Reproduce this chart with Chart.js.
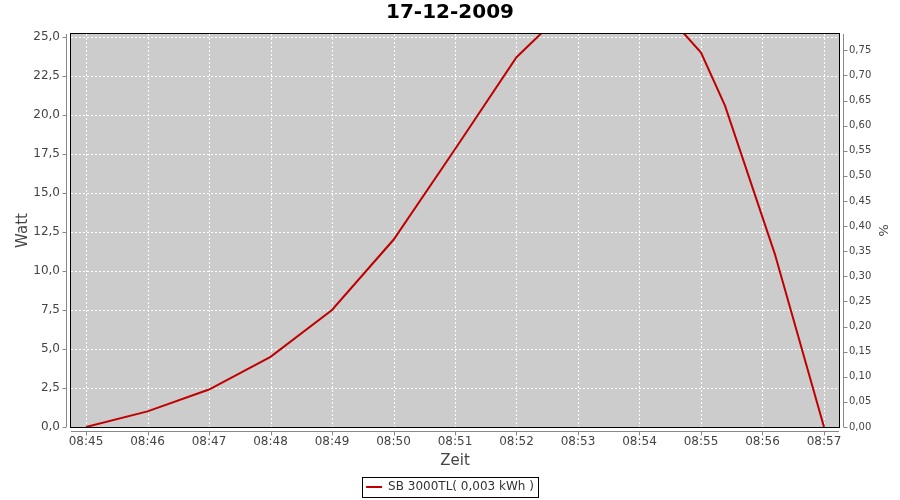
<!DOCTYPE html>
<html>
<head>
<meta charset="utf-8">
<script src="https://cdn.jsdelivr.net/npm/chart.js@4"></script>
<style>
  html, body { margin: 0; padding: 0; background: #fff; }
</style>
</head>
<body>
<canvas id="chart" width="900" height="500"></canvas>
<script>
const chartTitle = "17-12-2009";
const seriesName = "SB 3000TL( 0,003 kWh )";
// time in minutes after 08:00
const timeMinutes = [45, 46, 47, 48, 49, 50, 51, 52, 53, 54, 55, 55.39, 56.2, 57];
const wattValues = [0, 1.0, 2.4, 4.5, 7.5, 12.0, 17.8, 23.7, 27.5, 28.4, 24.0, 20.6, 11.1, 0];
const xRange = [44.756, 57.244];
const wattRange = [0, 25.19];
const percentRange = [0, 0.7825];

const font = "DejaVu Sans";
const textGray = "#444444";

function fmtTime(v) {
    const h = 8 + Math.floor(v / 60);
    const m = Math.round(v % 60);
    return String(h).padStart(2, "0") + ":" + String(m).padStart(2, "0");
}

// grey plot background, dashed white grid, black frame, offset axis lines
const plotFrame = {
    id: "plotFrame",
    afterLayout(chart) {
        // push the legend down a little (set absolutely, layout can run twice)
        const l = chart.legend;
        const h = l.height;
        l.top = 475;
        l.bottom = l.top + h;
    },
    beforeDatasetsDraw(chart) {
        const {ctx, chartArea: a, scales} = chart;
        ctx.save();
        ctx.fillStyle = "#cccccc";
        ctx.fillRect(a.left, a.top, a.right - a.left, a.bottom - a.top);
        ctx.strokeStyle = "#ffffff";
        ctx.lineWidth = 1;
        ctx.setLineDash([2, 2]);
        ctx.beginPath();
        scales.y.ticks.forEach(t => {
            const y = Math.round(scales.y.getPixelForValue(t.value)) + 0.5;
            ctx.moveTo(a.left, y); ctx.lineTo(a.right, y);
        });
        scales.x.ticks.forEach(t => {
            const x = Math.round(scales.x.getPixelForValue(t.value)) + 0.5;
            ctx.moveTo(x, a.top); ctx.lineTo(x, a.bottom);
        });
        ctx.stroke();
        ctx.restore();
    },
    afterDraw(chart) {
        const {ctx, chartArea: a, scales} = chart;
        ctx.save();
        ctx.lineWidth = 1;
        ctx.strokeStyle = "#000";
        ctx.strokeRect(a.left - 0.5, a.top - 0.5, a.right - a.left + 1, a.bottom - a.top + 1);

        ctx.strokeStyle = "#888888";
        ctx.beginPath();
        const lx = a.left - 4.5, rx = a.right + 4.5, by = a.bottom + 4.5;
        ctx.moveTo(lx, a.top); ctx.lineTo(lx, a.bottom);
        ctx.moveTo(rx, a.top); ctx.lineTo(rx, a.bottom);
        ctx.moveTo(a.left, by); ctx.lineTo(a.right, by);
        scales.y.ticks.forEach(t => {
            const y = Math.round(scales.y.getPixelForValue(t.value)) + 0.5;
            ctx.moveTo(lx - 4, y); ctx.lineTo(lx, y);
        });
        scales.y1.ticks.forEach(t => {
            const y = Math.round(scales.y1.getPixelForValue(t.value)) + 0.5;
            ctx.moveTo(rx, y); ctx.lineTo(rx + 4, y);
        });
        scales.x.ticks.forEach(t => {
            const x = Math.round(scales.x.getPixelForValue(t.value)) + 0.5;
            ctx.moveTo(x, by); ctx.lineTo(x, by + 4);
        });
        ctx.stroke();

        // box round the legend
        const hb = chart.legend.legendHitBoxes[0];
        if (hb) {
            ctx.strokeStyle = "#000";
            const cy = chart.legend.top + 12;
            ctx.strokeRect(Math.round(hb.left - 4) + 0.5, Math.round(cy - 10) + 0.5,
                Math.round(hb.width + 8), 20);
        }
        ctx.restore();
    }
};

const noGrid = { display: false, drawTicks: false, tickLength: 0 };

const ctx = document.getElementById("chart").getContext("2d");

new Chart(ctx, {
    type: "line",
    data: {
        datasets: [{
            label: seriesName,
            data: timeMinutes.map((t, i) => ({x: t, y: wattValues[i]})),
            borderColor: "#c00000",
            backgroundColor: "#c00000",
            borderWidth: 2,
            pointRadius: 0,
            tension: 0,
            yAxisID: "y"
        }]
    },
    options: {
        responsive: false,
        animation: false,
        layout: { padding: 0 },
        plugins: {
            title: {
                display: true,
                text: chartTitle,
                color: "#000",
                font: { family: font, size: 20, weight: "bold", lineHeight: 1.2 },
                padding: { top: 1, bottom: 9 }
            },
            legend: {
                position: "bottom",
                labels: {
                    usePointStyle: true,
                    pointStyle: "line",
                    pointStyleWidth: 16,
                    color: "#333333",
                    font: { family: font, size: 12 },
                    padding: 6
                }
            },
            tooltip: { enabled: false }
        },
        scales: {
            x: {
                type: "linear",
                min: xRange[0],
                max: xRange[1],
                afterFit: s => { s.height = 45; },
                ticks: {
                    stepSize: 1,
                    includeBounds: false,
                    autoSkip: false,
                    maxRotation: 0,
                    padding: 8,
                    color: textGray,
                    font: { family: font, size: 12 },
                    callback: v => fmtTime(v)
                },
                grid: noGrid,
                border: { display: false },
                title: {
                    display: true,
                    text: "Zeit",
                    color: textGray,
                    font: { family: font, size: 15 },
                    padding: { top: 0, bottom: 2 }
                }
            },
            y: {
                type: "linear",
                position: "left",
                min: wattRange[0],
                max: wattRange[1],
                afterFit: s => { s.width = 71; },
                ticks: {
                    stepSize: 2.5,
                    includeBounds: false,
                    autoSkip: false,
                    padding: 11,
                    color: textGray,
                    font: { family: font, size: 12 },
                    callback: v => v.toFixed(1).replace(".", ",")
                },
                grid: noGrid,
                border: { display: false },
                title: {
                    display: true,
                    text: "Watt",
                    color: textGray,
                    font: { family: font, size: 15 },
                    padding: { top: 14, bottom: 0 }
                }
            },
            y1: {
                type: "linear",
                position: "right",
                min: percentRange[0],
                max: percentRange[1],
                afterFit: s => { s.width = 61; },
                ticks: {
                    stepSize: 0.05,
                    includeBounds: false,
                    autoSkip: false,
                    padding: 10,
                    color: textGray,
                    font: { family: font, size: 10 },
                    callback: v => v.toFixed(2).replace(".", ",")
                },
                grid: noGrid,
                border: { display: false },
                title: {
                    display: true,
                    text: "%",
                    color: textGray,
                    font: { family: font, size: 13 },
                    padding: { top: 10, bottom: 0 }
                }
            }
        }
    },
    plugins: [plotFrame]
});
</script>
</body>
</html>
